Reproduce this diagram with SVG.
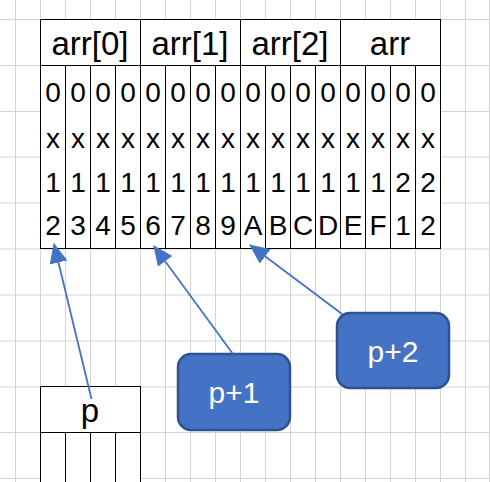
<svg xmlns="http://www.w3.org/2000/svg" width="490" height="482" viewBox="0 0 490 482">
<style>
.grid{stroke:#D4D4D4;stroke-width:1;fill:none}
.tbl{stroke:#000;stroke-width:1;fill:none}
.cell{fill:#fff;stroke:#000;stroke-width:1}
.hdr{font-family:"Liberation Sans",Arial,sans-serif;font-size:33px;fill:#000;text-anchor:middle}
.dat{font-family:"Liberation Sans",Arial,sans-serif;font-size:28px;fill:#000;text-anchor:middle}
.box{fill:#4472C4;stroke:#2F528F;stroke-width:2.5}
.lbl{font-family:"Liberation Sans",Arial,sans-serif;font-size:30px;fill:#fff;text-anchor:middle}
.conn{stroke:#4472C4;stroke-width:1.8;fill:none;marker-end:url(#ah)}
</style>
<defs>
<marker id="ah" markerUnits="userSpaceOnUse" markerWidth="20" markerHeight="18" viewBox="0 0 20 18" refX="19" refY="9" orient="auto">
<path d="M0,0 L20,9 L0,18 Z" fill="#4472C4"/>
</marker>
</defs>
<g id="grid">
<path class="grid" d="M15.5,0V482M40.5,0V482M65.5,0V482M90.5,0V482M115.5,0V482M140.5,0V482M165.5,0V482M190.5,0V482M215.5,0V482M240.5,0V482M265.5,0V482M290.5,0V482M315.5,0V482M340.5,0V482M365.5,0V482M390.5,0V482M415.5,0V482M440.5,0V482M465.5,0V482M489.5,0V482"/>
<path class="grid" d="M0,19.5H490M0,65.5H490M0,111.5H490M0,157H490M0,203H490M0,249H490M0,295H490M0,341H490M0,387H490M0,432.5H490M0,478.5H490"/>
</g>
<g id="arr-table">
<rect class="cell" x="40.5" y="19.5" width="400" height="229"/>
<path class="tbl" d="M40.5,65.5H440.5M140.5,19.5V248.5M240.5,19.5V248.5M340.5,19.5V248.5M65.5,65.5V248.5M90.5,65.5V248.5M115.5,65.5V248.5M165.5,65.5V248.5M190.5,65.5V248.5M215.5,65.5V248.5M265.5,65.5V248.5M290.5,65.5V248.5M315.5,65.5V248.5M365.5,65.5V248.5M390.5,65.5V248.5M415.5,65.5V248.5"/>
<text class="hdr" x="90" y="55">arr[0]</text>
<text class="hdr" x="190" y="55">arr[1]</text>
<text class="hdr" x="290" y="55">arr[2]</text>
<text class="hdr" x="390" y="55">arr</text>
<g class="dat">
<text y="102"><tspan x="53">0</tspan><tspan x="78">0</tspan><tspan x="103">0</tspan><tspan x="128">0</tspan><tspan x="153">0</tspan><tspan x="178">0</tspan><tspan x="203">0</tspan><tspan x="228">0</tspan><tspan x="253">0</tspan><tspan x="278">0</tspan><tspan x="303">0</tspan><tspan x="328">0</tspan><tspan x="353">0</tspan><tspan x="378">0</tspan><tspan x="403">0</tspan><tspan x="428">0</tspan></text>
<text y="148"><tspan x="53">x</tspan><tspan x="78">x</tspan><tspan x="103">x</tspan><tspan x="128">x</tspan><tspan x="153">x</tspan><tspan x="178">x</tspan><tspan x="203">x</tspan><tspan x="228">x</tspan><tspan x="253">x</tspan><tspan x="278">x</tspan><tspan x="303">x</tspan><tspan x="328">x</tspan><tspan x="353">x</tspan><tspan x="378">x</tspan><tspan x="403">x</tspan><tspan x="428">x</tspan></text>
<text y="192"><tspan x="53">1</tspan><tspan x="78">1</tspan><tspan x="103">1</tspan><tspan x="128">1</tspan><tspan x="153">1</tspan><tspan x="178">1</tspan><tspan x="203">1</tspan><tspan x="228">1</tspan><tspan x="253">1</tspan><tspan x="278">1</tspan><tspan x="303">1</tspan><tspan x="328">1</tspan><tspan x="353">1</tspan><tspan x="378">1</tspan><tspan x="403">2</tspan><tspan x="428">2</tspan></text>
<text y="235"><tspan x="53">2</tspan><tspan x="78">3</tspan><tspan x="103">4</tspan><tspan x="128">5</tspan><tspan x="153">6</tspan><tspan x="178">7</tspan><tspan x="203">8</tspan><tspan x="228">9</tspan><tspan x="253">A</tspan><tspan x="278">B</tspan><tspan x="303">C</tspan><tspan x="328">D</tspan><tspan x="353">E</tspan><tspan x="378">F</tspan><tspan x="403">1</tspan><tspan x="428">2</tspan></text>
</g>
</g>
<g id="p-table">
<rect class="cell" x="40.5" y="386.5" width="100" height="100"/>
<path class="tbl" d="M40.5,432.5H140.5M65.5,432.5V482M90.5,432.5V482M115.5,432.5V482"/>
<text class="hdr" x="90" y="422">p</text>
</g>
<g id="p1">
<rect class="box" x="178" y="354" width="112" height="76" rx="13"/>
<text class="lbl" x="234" y="403">p+1</text>
</g>
<g id="p2">
<rect class="box" x="337" y="313" width="112" height="75" rx="13"/>
<text class="lbl" x="393" y="362">p+2</text>
</g>
<g id="connectors">
<line class="conn" x1="91.5" y1="399" x2="54" y2="244"/>
<line class="conn" x1="233" y1="354" x2="154" y2="246"/>
<line class="conn" x1="342" y1="314" x2="250" y2="245"/>
</g>
</svg>
